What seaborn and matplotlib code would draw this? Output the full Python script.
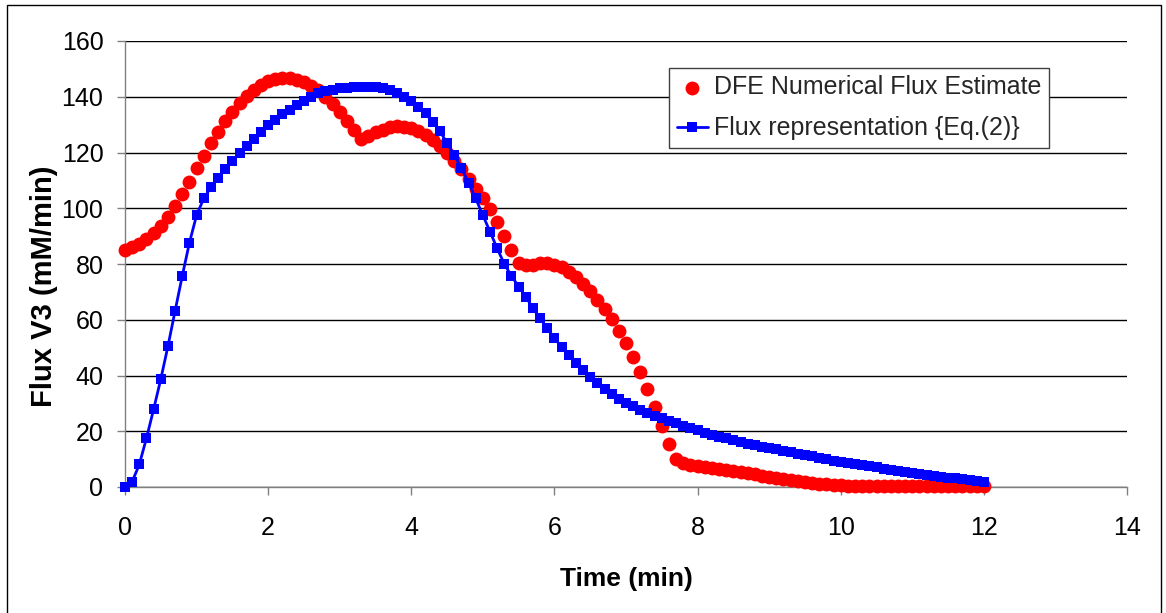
import matplotlib
matplotlib.use("Agg")
import matplotlib.pyplot as plt
from matplotlib.patches import Rectangle
import seaborn as sns
import pandas as pd

# ---------------- data ----------------
time_min = [round(0.1 * i, 1) for i in range(121)]

dfe_flux = [
    85.0, 86.0, 87.3, 89.0, 91.2, 93.8, 97.0, 100.8, 105.0, 109.5,
    114.3, 118.8, 123.3, 127.5, 131.2, 134.6, 137.6, 140.2, 142.5, 144.3,
    145.6, 146.4, 146.7, 146.6, 146.1, 145.2, 144.0, 142.3, 140.0, 137.4,
    134.5, 131.4, 128.0, 124.8, 125.8, 127.2, 128.2, 129.0, 129.4, 129.3,
    128.7, 127.6, 126.2, 124.5, 122.4, 119.8, 117.0, 114.0, 110.5, 107.0,
    103.5, 99.6, 95.2, 90.0, 85.0, 80.5, 79.5, 79.8, 80.2, 80.3,
    79.8, 78.8, 77.3, 75.3, 73.0, 70.2, 67.2, 64.0, 60.3, 56.0,
    51.5, 46.5, 41.2, 35.3, 28.8, 22.0, 15.3, 10.0, 8.5, 8.0,
    7.6, 7.2, 6.9, 6.5, 6.1, 5.7, 5.3, 4.9, 4.5, 4.1,
    3.7, 3.3, 2.9, 2.5, 2.1, 1.7, 1.4, 1.1, 0.9, 0.7,
    0.6, 0.5, 0.5, 0.5, 0.5, 0.5, 0.5, 0.5, 0.5, 0.5,
    0.5, 0.5, 0.5, 0.5, 0.5, 0.5, 0.5, 0.5, 0.5, 0.5,
    0.5,
]

eq2_flux = [
    0.0, 1.9, 8.1, 17.5, 27.9, 38.7, 50.5, 63.2, 75.7, 87.6,
    97.5, 103.5, 107.5, 111.0, 114.2, 117.0, 119.7, 122.4, 125.0, 127.5,
    129.7, 131.7, 133.7, 135.3, 137.0, 138.5, 140.0, 141.2, 142.0, 142.6,
    143.0, 143.3, 143.5, 143.6, 143.6, 143.5, 143.1, 142.4, 141.3, 140.0,
    138.3, 136.3, 134.0, 131.0, 127.7, 123.3, 119.1, 114.3, 109.2, 103.5,
    97.5, 91.6, 85.6, 80.0, 75.7, 71.9, 68.3, 64.1, 60.5, 56.9,
    53.3, 50.3, 47.3, 44.5, 41.8, 39.3, 37.2, 35.2, 33.3, 31.7,
    30.3, 29.0, 27.8, 26.7, 25.6, 24.6, 23.7, 22.8, 21.9, 21.1,
    20.3, 19.5, 18.8, 18.1, 17.4, 16.8, 16.2, 15.6, 15.0, 14.5,
    14.0, 13.5, 13.0, 12.5, 12.0, 11.5, 11.0, 10.5, 10.0, 9.5,
    9.0, 8.6, 8.2, 7.8, 7.4, 7.0, 6.6, 6.2, 5.8, 5.4,
    5.0, 4.6, 4.3, 4.0, 3.7, 3.4, 3.1, 2.8, 2.5, 2.2,
    1.9,
]

x_ticks = [0, 2, 4, 6, 8, 10, 12, 14]
y_ticks = [0, 20, 40, 60, 80, 100, 120, 140, 160]

label_dfe = "DFE Numerical Flux Estimate"
label_eq2 = "Flux representation {Eq.(2)}"
x_label = "Time (min)"
y_label = "Flux V3 (mM/min)"

df = pd.DataFrame({"time": time_min, "dfe": dfe_flux, "eq2": eq2_flux})

# ---------------- style ----------------
sns.set_theme(style="white")
plt.rcParams["font.family"] = ["Liberation Sans", "DejaVu Sans"]

W, H = 1166, 613
fig = plt.figure(figsize=(W / 100, H / 100), dpi=100)
ax = fig.add_axes([125 / W, 1 - 487 / H, (1127 - 125) / W, (487 - 41) / H])

sns.scatterplot(data=df, x="time", y="dfe", ax=ax, color="#FF0000", s=100,
                linewidth=0, marker="o", label=label_dfe, zorder=3, clip_on=False)
sns.lineplot(data=df, x="time", y="eq2", ax=ax, color="#0000FF", linewidth=2.0,
             marker="s", markersize=7, markeredgewidth=0, label=label_eq2,
             zorder=4, clip_on=False)

ax.set_xlim(0, 14)
ax.set_ylim(0, 160)
ax.set_xticks(x_ticks)
ax.set_yticks(y_ticks)
ax.set_xticklabels([str(v) for v in x_ticks])
ax.set_yticklabels([str(v) for v in y_ticks])

ax.yaxis.grid(True, color="black", linewidth=1.0)
ax.xaxis.grid(False)
ax.set_axisbelow(True)

for side in ["top", "right"]:
    ax.spines[side].set_visible(False)
for side in ["left", "bottom"]:
    ax.spines[side].set_color("#808080")
    ax.spines[side].set_linewidth(1.0)

ax.tick_params(axis="x", direction="out", length=6, width=1, color="#808080",
               pad=15, labelsize=18, labelcolor="black", bottom=True)
ax.tick_params(axis="y", direction="out", length=5.5, width=1, color="#808080",
               pad=10, labelsize=18, labelcolor="black", left=True)

ax.set_xlabel(x_label, fontsize=19, fontweight="bold", color="black")
ax.set_ylabel(y_label, fontsize=21, fontweight="bold", color="black")
ax.xaxis.set_label_coords(0.5, -0.18)
ax.yaxis.set_label_coords(-0.067, 0.451)

handles, labels = ax.get_legend_handles_labels()
order = [labels.index(label_dfe), labels.index(label_eq2)]
leg = ax.legend([handles[i] for i in order], [labels[i] for i in order],
                loc="upper left", bbox_to_anchor=((669 - 125) / 1002, (487 - 68) / 446),
                fontsize=18, frameon=True, fancybox=False, framealpha=1,
                edgecolor="#404040", borderpad=0.3, labelspacing=0.67,
                handlelength=1.25, handletextpad=0.24, borderaxespad=0)
leg.get_frame().set_linewidth(1.0)

fig.patches.append(Rectangle((7 / W, -0.02), (1161 - 7) / W, 1 - 5 / H + 0.02,
                             transform=fig.transFigure, fill=False,
                             edgecolor="black", linewidth=1.0))

fig.savefig("out.png", dpi=100)
